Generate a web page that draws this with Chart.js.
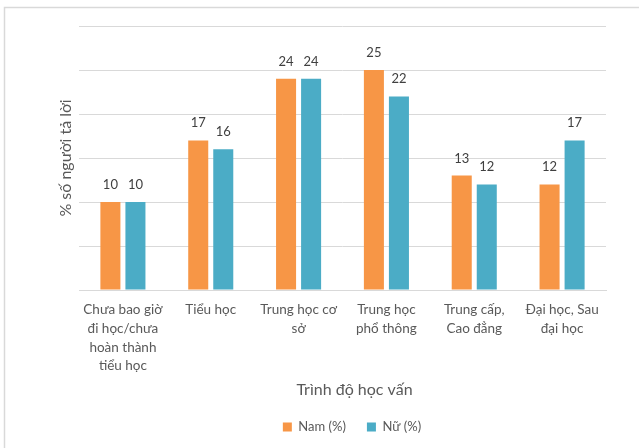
<!DOCTYPE html>
<html lang="vi">
<head>
<meta charset="utf-8">
<title>Trình độ học vấn</title>
<script src="https://cdn.jsdelivr.net/npm/chart.js@4.4.1/dist/chart.umd.min.js"></script>
<style>
  html, body { margin: 0; padding: 0; background: #fff; }
  #wrap { position: relative; width: 639px; height: 448px; }
</style>
</head>
<body>
<div id="wrap"><canvas id="eduChart"></canvas></div>
<script>
const levels = [
    ['Chưa bao giờ', 'đi học/chưa', 'hoàn thành', 'tiểu học'],
    'Tiểu học',
    ['Trung học cơ', 'sở'],
    ['Trung học', 'phổ thông'],
    ['Trung cấp,', 'Cao đẳng'],
    ['Đại học, Sau', 'đại học']
];
const male = [10, 17, 24, 25, 13, 12];
const female = [10, 16, 24, 22, 12, 17];
const seriesNames = ['Nam (%)', 'Nữ (%)'];
const yTitle = '% số người tả lời';
const xTitle = 'Trình độ học vấn';

const FONT = 'Lato, "Open Sans", sans-serif';
const GRID = '#d9d9d9';
const TEXT = '#595959';

// numbers above each bar
const valueLabels = {
    id: 'valueLabels',
    afterDatasetsDraw(chart) {
        const ctx = chart.ctx;
        ctx.save();
        ctx.font = `13px ${FONT}`;
        ctx.fillStyle = '#404040';
        ctx.textAlign = 'center';
        ctx.textBaseline = 'alphabetic';
        chart.data.datasets.forEach((ds, i) => {
            chart.getDatasetMeta(i).data.forEach((bar, j) => {
                ctx.fillText(ds.data[j], bar.x, bar.y - 13);
            });
        });
        ctx.restore();
    }
};

// outer frame, x title and a small nudge of the legend
const frame = {
    id: 'frame',
    afterLayout(chart) {
        chart.legend.left += 22;
        chart.legend.right += 22;
    },
    beforeDraw(chart) {
        const ctx = chart.ctx;
        ctx.save();
        ctx.strokeStyle = GRID;
        ctx.lineWidth = 1.5;
        ctx.beginPath();
        ctx.moveTo(4.5, chart.height);
        ctx.lineTo(4.5, 7.5);
        ctx.lineTo(chart.width, 7.5);
        ctx.stroke();
        ctx.restore();
    },
    afterDraw(chart) {
        const ctx = chart.ctx;
        const area = chart.chartArea;
        ctx.save();
        ctx.font = `16px ${FONT}`;
        ctx.fillStyle = TEXT;
        ctx.textAlign = 'center';
        ctx.textBaseline = 'middle';
        ctx.fillText(xTitle, (area.left + area.right) / 2 + 12, area.bottom + 100);
        ctx.restore();
    }
};

new Chart(document.getElementById('eduChart'), {
    type: 'bar',
    data: {
        labels: levels,
        datasets: [
            { label: seriesNames[0], data: male, backgroundColor: '#F79646' },
            { label: seriesNames[1], data: female, backgroundColor: '#4BACC6' }
        ]
    },
    options: {
        responsive: true,
        maintainAspectRatio: false,
        animation: false,
        categoryPercentage: 0.57,
        barPercentage: 0.8,
        layout: { padding: { top: 26, right: 33, bottom: 4.5, left: 54 } },
        plugins: {
            legend: {
                position: 'bottom',
                labels: {
                    boxWidth: 9,
                    boxHeight: 9,
                    padding: 21,
                    color: TEXT,
                    font: { family: FONT, size: 13 }
                }
            },
            tooltip: { enabled: false }
        },
        scales: {
            x: {
                grid: { display: false, drawTicks: false },
                border: { color: GRID },
                ticks: {
                    color: TEXT,
                    font: { family: FONT, size: 13.5, lineHeight: 1.385 },
                    padding: 10.5,
                    maxRotation: 0,
                    autoSkip: false
                },
                afterFit(scale) { scale.height = 109.5; }
            },
            y: {
                min: 0,
                max: 30,
                ticks: { display: false, stepSize: 5 },
                grid: { color: GRID, drawTicks: false },
                border: { display: false },
                title: {
                    display: true,
                    text: yTitle,
                    color: TEXT,
                    font: { family: FONT, size: 16 },
                    padding: { top: 2.5, bottom: 0 }
                },
                afterFit(scale) { scale.width = 25; }
            }
        }
    },
    plugins: [valueLabels, frame]
});
</script>
</body>
</html>
